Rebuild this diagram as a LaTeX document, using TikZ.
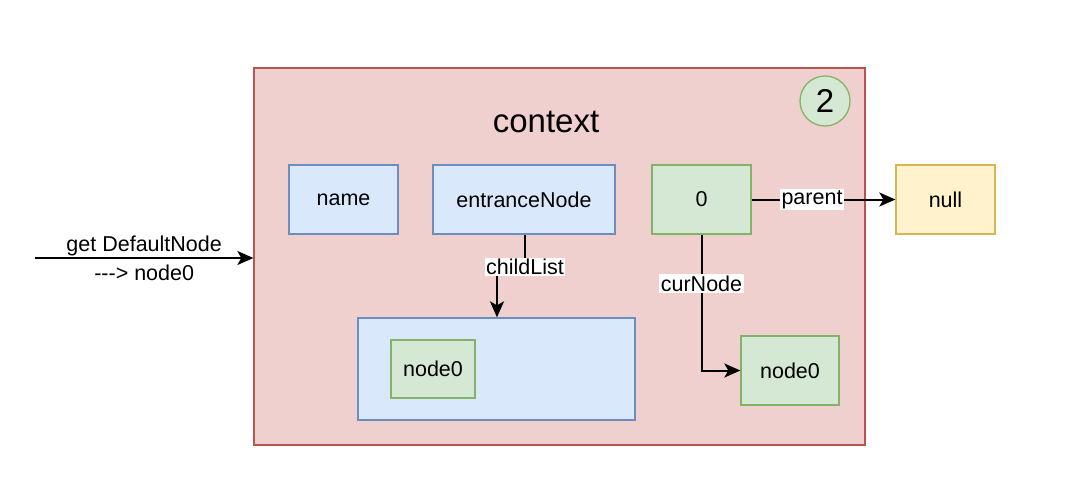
\documentclass[tikz,border=0pt]{standalone}
\usepackage{fontspec}
\setmainfont{Liberation Sans}
\usetikzlibrary{arrows.meta}
\definecolor{redfill}{HTML}{F0CFCF}
\definecolor{redline}{HTML}{B85450}
\definecolor{bluefill}{HTML}{DAE8FC}
\definecolor{blueline}{HTML}{6C8EBF}
\definecolor{greenfill}{HTML}{D5E8D4}
\definecolor{greenline}{HTML}{82B366}
\definecolor{yelfill}{HTML}{FFF2CC}
\definecolor{yelline}{HTML}{D6B656}
\tikzset{
  box/.style={draw, line width=1.3pt, inner sep=0pt, font=\fontsize{21.5}{26}\selectfont},
  bluebox/.style={box, fill=bluefill, draw=blueline},
  greenbox/.style={box, fill=greenfill, draw=greenline},
  yelbox/.style={box, fill=yelfill, draw=yelline},
  conn/.style={line width=2pt, -{Stealth[length=16pt,width=14pt,inset=4pt]}},
  elabel/.style={fill=white, inner sep=1.5pt, font=\fontsize{21.5}{26}\selectfont},
}
\begin{document}
\begin{tikzpicture}[x=1pt,y=-1pt]
\useasboundingbox (0,0) rectangle (1074,482);
\fill[white] (0,0) rectangle (1074,482);
% context container
\node[draw=redline, fill=redfill, line width=1.3pt, minimum width=611pt, minimum height=377pt, inner sep=0pt] (ctx) at (559.5,256.5) {};
\node[font=\fontsize{33}{38}\selectfont] (ctxlabel) at (546,122) {context};
\node[circle, draw=greenline, fill=greenfill, line width=1.3pt, minimum size=50pt, inner sep=0pt, font=\fontsize{33}{38}\selectfont] (two) at (825,101) {2};
% boxes
\node[bluebox, minimum width=109pt, minimum height=69pt] (name) at (343.5,199.5) {name};
\node[bluebox, minimum width=182pt, minimum height=69pt] (entr) at (524,199.5) {entranceNode};
\node[greenbox, minimum width=99pt, minimum height=69pt] (zero) at (701.5,199.5) {0};
\node[yelbox, minimum width=99pt, minimum height=69pt] (null) at (945.5,199.5) {null};
\node[bluebox, minimum width=277pt, minimum height=102pt] (list) at (496.5,369) {};
\node[greenbox, minimum width=84pt, minimum height=58pt] (inner) at (433,369) {node0};
\node[greenbox, minimum width=98pt, minimum height=69pt] (cur) at (790,370.5) {node0};
% connectors
\coordinate (start) at (35,258);
\draw[conn] (start) -- (ctx.west |- start) node[midway, align=center, font=\fontsize{21.5}{26}\selectfont, text depth=0pt] {get DefaultNode\\[3pt]{-}{-}{-}> node0};
\draw[conn] (zero.east) -- (null.west) node[elabel, pos=0.42] {parent};
\coordinate (jog) at (525,267);
\draw[conn] (entr.south -| jog) -- (jog) -- (497,267) -- (list.north -| 497,0);
\node[elabel] (cl) at (525,267) {childList};
\draw[conn] (zero.south) |- (cur.west) node[elabel, pos=0.18] {curNode};
\end{tikzpicture}
\end{document}
